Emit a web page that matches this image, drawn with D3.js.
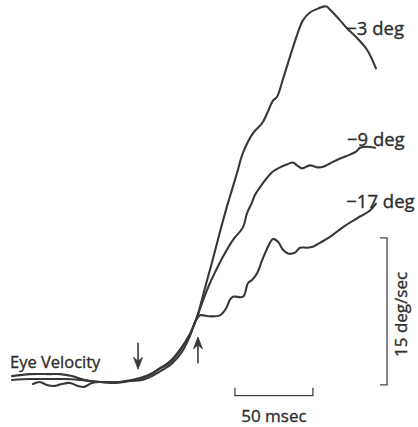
<!DOCTYPE html>
<html>
<head>
<meta charset="utf-8">
<script src="https://cdn.jsdelivr.net/npm/d3@7"></script>
<style>
  html, body { margin: 0; padding: 0; background: #fff; }
  svg { display: block; }
  text { font-family: "Open Sans", "DejaVu Sans", sans-serif; fill: #2e2e2e; stroke: #2e2e2e; stroke-width: 0.35px; }
</style>
</head>
<body>
<svg id="chart" width="418" height="427"></svg>
<script>
// Eye velocity traces (time in msec, velocity in deg/sec) for three target offsets.
const seriesNames = ["\u22123 deg", "\u22129 deg", "\u221217 deg"];

const trace3 = [
  [0, 0.5], [11.5, 0.7], [24.4, 0.7], [30.8, 0.7], [38.5, 0.5], [46.8, 0.1], [56.4, -0.1],
  [69.2, -0.1], [82.1, 0.3], [88.5, 0.7], [94.9, 1.3], [101.3, 1.9], [107.7, 3.1], [114.1, 4.8],
  [117.9, 6.2], [119.2, 6.8], [123.7, 9.5], [128.2, 12.1], [133.3, 15.2], [138.5, 18.2],
  [141.0, 19.5], [144.2, 21.2], [148.1, 23.3], [154.5, 25.3], [160.3, 26.3], [163.5, 27.3],
  [167.3, 28.6], [169.9, 29.0], [173.7, 30.8], [178.2, 33.1], [182.7, 35.3], [186.5, 36.8],
  [191.0, 37.6], [196.2, 38.0], [199.4, 38.2], [201.9, 38.2], [203.8, 37.9], [210.3, 36.8],
  [214.7, 36.0], [221.2, 35.0], [227.6, 33.8], [233.3, 31.9]
];

const trace9 = [
  [0, 0.1], [11.5, 0.2], [24.4, 0.2], [34.0, 0.2], [43.6, 0.1], [56.4, -0.1], [69.2, -0.1],
  [82.1, 0.2], [88.5, 0.6], [94.9, 1.3], [101.3, 2.0], [107.7, 3.2], [114.1, 4.8], [119.2, 6.8],
  [123.1, 8.5], [126.9, 10.0], [130.8, 11.3], [135.3, 12.7], [141.7, 14.4], [148.1, 15.7],
  [150.6, 17.1], [153.8, 18.2], [155.8, 19.0], [160.9, 20.2], [166.7, 21.3], [171.8, 21.8],
  [176.3, 22.1], [180.1, 22.3], [182.7, 22.0], [185.9, 21.7], [191.0, 22.0], [196.2, 21.8],
  [200.0, 21.9], [203.8, 22.2], [210.3, 22.7], [216.7, 23.1], [220.5, 23.4], [223.1, 23.8],
  [227.6, 23.9], [232.7, 23.8]
];

const trace17 = [
  [13.5, -0.3], [17.9, -0.1], [22.4, -0.4], [27.6, -0.5], [32.1, -0.3], [37.2, -0.2], [42.3, -0.5],
  [46.2, -0.6], [51.3, -0.2], [56.4, -0.1], [66.0, -0.2], [75.6, 0.0], [83.3, 0.1], [89.7, 0.5],
  [96.2, 1.1], [102.6, 1.8], [109.0, 3.0], [114.1, 4.6], [117.9, 6.2], [120.5, 6.7], [126.9, 6.6],
  [133.3, 6.7], [137.2, 7.4], [139.7, 8.3], [141.7, 8.6], [148.1, 8.6], [151.3, 10.0], [153.8, 10.3],
  [157.1, 11.0], [160.3, 12.3], [164.1, 13.7], [167.3, 14.5], [170.5, 14.2], [173.7, 13.4],
  [176.9, 13.0], [181.4, 13.1], [184.6, 13.6], [189.1, 13.6], [192.9, 13.7], [197.4, 14.1],
  [203.8, 14.7], [212.2, 15.7], [221.2, 16.6], [229.5, 17.4], [233.3, 18.1]
];

// Moments marked with arrows (msec): down = before onset, up = divergence.
const arrowTimes = [80.8, 119.2];

// Calibration bars.
const timeBarMs = 50;
const velBarDeg = 15;
const timeBarLabel = "50 msec";
const velBarLabel = "15 deg/sec";
const traceLabel = "Eye Velocity";

const svg = d3.select("#chart");

const x = d3.scaleLinear().domain([0, 260]).range([12, 12 + 260 * 1.56]);
const y = d3.scaleLinear().domain([0, 40]).range([381, 381 - 40 * 9.8]);

const ink = "#383838";

const line = d3.line()
  .x(d => x(d[0]))
  .y(d => y(d[1]))
  .curve(d3.curveCatmullRom.alpha(0.5));

const traces = [trace3, trace9, trace17];

svg.append("g")
  .selectAll("path")
  .data(traces)
  .join("path")
  .attr("d", line)
  .attr("fill", "none")
  .attr("stroke", ink)
  .attr("stroke-width", 2.1)
  .attr("stroke-linejoin", "round")
  .attr("stroke-linecap", "round");

// Series labels next to the trace ends.
const labelAnchors = [
  { t: 214.3, v: 35.3 },
  { t: 214.7, v: 24.0 },
  { t: 214.3, v: 17.7 }
];
svg.append("g")
  .selectAll("text")
  .data(seriesNames)
  .join("text")
  .attr("x", (d, i) => x(labelAnchors[i].t))
  .attr("y", (d, i) => y(labelAnchors[i].v))
  .attr("font-size", 18.5)
  .text(d => d);

// "Eye Velocity" trace label.
svg.append("text")
  .attr("x", x(-1.3))
  .attr("y", y(1.3))
  .attr("font-size", 16.5)
  .text(traceLabel);

// Arrows: first points down onto the traces, second points up at them.
const arrowG = svg.append("g").attr("stroke", ink).attr("fill", ink);
function arrow(t, vTail, vTip) {
  const xa = x(t), y0 = y(vTail), y1 = y(vTip);
  const dir = Math.sign(y1 - y0);
  arrowG.append("line")
    .attr("x1", xa).attr("x2", xa)
    .attr("y1", y0).attr("y2", y1 - dir * 4)
    .attr("stroke-width", 1.6);
  arrowG.append("path")
    .attr("d", `M${xa - 4.5},${y1 - dir * 12} L${xa},${y1} L${xa + 4.5},${y1 - dir * 12} L${xa},${y1 - dir * 8} Z`)
    .attr("stroke-width", 0.8);
}
arrow(arrowTimes[0], 3.9, 1.2);
arrow(arrowTimes[1], 1.8, 4.5);

// Calibration bars.
const barG = svg.append("g").attr("stroke", "#444").attr("fill", "none").attr("stroke-width", 1.3);
const tb0 = 142.9, vb0 = -1.5;
barG.append("path")
  .attr("d", `M${x(tb0)},${y(vb0) - 8} V${y(vb0)} H${x(tb0 + timeBarMs)} V${y(vb0) - 8}`);
svg.append("text")
  .attr("x", (x(tb0) + x(tb0 + timeBarMs)) / 2)
  .attr("y", y(vb0) + 26)
  .attr("text-anchor", "middle")
  .attr("font-size", 17)
  .text(timeBarLabel);

const tv = 240.4, vv0 = -0.4;
barG.append("path")
  .attr("d", `M${x(tv) - 7},${y(vv0 + velBarDeg)} H${x(tv)} V${y(vv0)} H${x(tv) - 7}`);
svg.append("text")
  .attr("transform", `translate(${x(tv) + 20},${(y(vv0) + y(vv0 + velBarDeg)) / 2 + 3}) rotate(-90)`)
  .attr("text-anchor", "middle")
  .attr("font-size", 17)
  .text(velBarLabel);
</script>
</body>
</html>
